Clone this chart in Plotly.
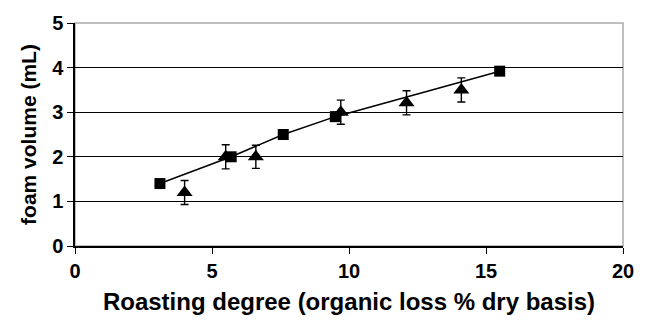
import plotly.graph_objects as go

sq_x = [3.1, 5.7, 7.6, 9.5, 15.5]
sq_y = [1.4, 2.0, 2.5, 2.9, 3.92]
sq_err = [0.08, 0.08, 0.1, 0.1, 0.08]

tri_x = [4.0, 5.5, 6.6, 9.7, 12.1, 14.1]
tri_y = [1.2, 2.0, 2.0, 3.0, 3.21, 3.5]
tri_err = [0.27, 0.27, 0.26, 0.27, 0.27, 0.27]

x_ticks = [0, 5, 10, 15, 20]
y_ticks = [0, 1, 2, 3, 4, 5]

font = "Liberation Sans"

fig = go.Figure()
fig.add_trace(go.Scatter(
    x=tri_x, y=tri_y, mode="markers",
    marker=dict(symbol="triangle-up", size=14, color="black"),
    error_y=dict(type="data", array=tri_err, color="black", thickness=1.4, width=4),
    showlegend=False))
fig.add_trace(go.Scatter(
    x=sq_x, y=sq_y, mode="lines+markers",
    line=dict(color="black", width=1.5),
    marker=dict(symbol="square", size=11, color="black"),
    error_y=dict(type="data", array=sq_err, color="black", thickness=1.4, width=4),
    showlegend=False))

fig.add_shape(type="rect", xref="paper", yref="paper", x0=0, y0=0, x1=1, y1=1,
              line=dict(color="#aaaaaa", width=1.5), layer="below")

fig.update_layout(
    width=646, height=327,
    margin=dict(l=75, r=15, t=20, b=81),
    paper_bgcolor="white", plot_bgcolor="white",
    font=dict(family=font, color="black", weight="bold"),
    xaxis=dict(range=[0, 20], tickmode="array", tickvals=x_ticks,
               ticktext=[f"<b>{v}</b>" for v in x_ticks],
               ticks="outside", ticklen=6,
               tickcolor="black", showline=True, linecolor="black", linewidth=1.5,
               showgrid=False, zeroline=False,
               tickfont=dict(size=20, family=font, weight="bold", color="black"),
               title=dict(text="<b>Roasting degree (organic loss % dry basis)</b>",
                          font=dict(size=24), standoff=12)),
    yaxis=dict(range=[0, 5], tickmode="array", tickvals=y_ticks,
               ticktext=[f"<b>{v}</b>" for v in y_ticks],
               ticks="outside", ticklen=6,
               tickcolor="black", showline=True, linecolor="black", linewidth=1.5,
               showgrid=True, gridcolor="black", gridwidth=1, zeroline=False,
               tickfont=dict(size=20, family=font, weight="bold", color="black"),
               title=dict(text="<b>foam volume (mL)</b>", font=dict(size=21), standoff=10)),
)

fig.write_html("out.html", config={"displayModeBar": False},
               post_script="document.body.style.margin='0';")
